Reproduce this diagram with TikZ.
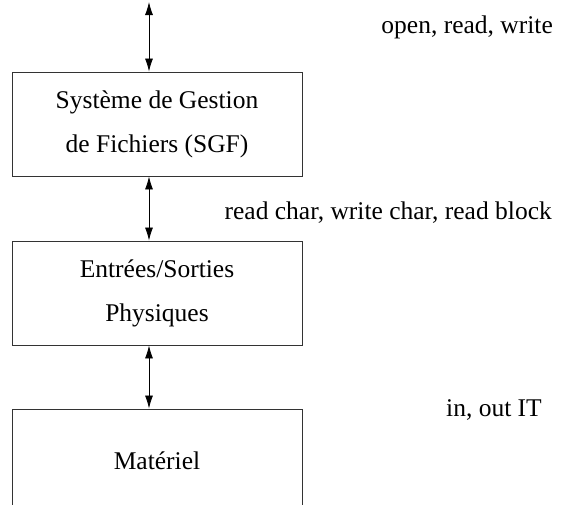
\documentclass[tikz,border=0pt]{standalone}
\usepackage{fontspec}
\setmainfont{Liberation Serif}
\usetikzlibrary{arrows.meta}
\begin{document}
\begin{tikzpicture}[x=1pt,y=-1pt,
  layer/.style={draw=black!80, line width=0.9pt, minimum width=290pt, minimum height=104pt,
    inner sep=0pt, align=center, font=\fontsize{25.5}{44}\selectfont},
  link/.style={line width=0.8pt, {Latex[length=13pt,width=8pt]}-{Latex[length=13pt,width=8pt]}},
  call/.style={font=\fontsize{25.5}{29}\selectfont, inner sep=0pt}]
\useasboundingbox (0,0) rectangle (565,504);

% the three layers
\node[layer] (sgf) at (157,124) {Système de Gestion\\de Fichiers (SGF)};
\node[layer] (es)  at (157,293) {Entrées/Sorties\\Physiques};
\node[layer] (mat) at (157,461) {Matériel};

% links between layers
\coordinate (top) at (149,2);
\draw[link] (top) -- (top |- sgf.north);
\draw[link] (top |- sgf.south) -- (top |- es.north);
\draw[link] (top |- es.south) -- (top |- mat.north);

% operations offered at each interface
\node[call, anchor=base east] (c1) at (553,33) {open, read, write};
\node[call, anchor=base east] (c2) at (552,219) {read char, write char, read block};
\node[call, anchor=base east] (c3) at (542,416) {in, out IT};
\end{tikzpicture}
\end{document}
